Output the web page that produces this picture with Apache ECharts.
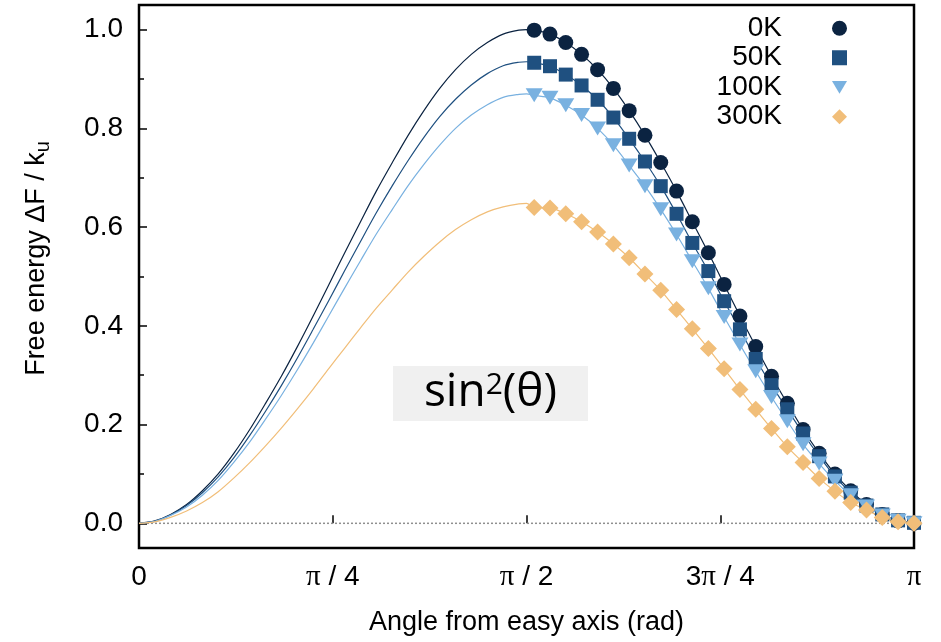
<!DOCTYPE html>
<html>
<head>
<meta charset="utf-8">
<script src="https://cdn.jsdelivr.net/npm/echarts@6/dist/echarts.min.js"></script>
<style>html,body{margin:0;padding:0;background:#fff;}#c{width:941px;height:642px;}</style>
</head>
<body>
<div id="c"></div>
<script>
// ---- data ----
const seriesNames = ['0K', '50K', '100K', '300K'];
const xTickLabels = ['0', 'π / 4', 'π / 2', '3π / 4', 'π'];
const yTickValues = [0, 0.2, 0.4, 0.6, 0.8, 1.0];
const yMinorTickValues = [0.1, 0.3, 0.5, 0.7, 0.9];

// marker angles (rad)
const xMarkers = [1.602, 1.666, 1.730, 1.794, 1.859, 1.923, 1.987, 2.051, 2.115, 2.179, 2.243, 2.308, 2.372, 2.436, 2.500, 2.564, 2.628, 2.692, 2.757, 2.821, 2.885, 2.949, 3.013, 3.077, 3.1416];
const m0K   = [0.999, 0.991, 0.974, 0.950, 0.919, 0.881, 0.836, 0.786, 0.731, 0.673, 0.611, 0.548, 0.484, 0.420, 0.358, 0.298, 0.243, 0.190, 0.142, 0.100, 0.066, 0.038, 0.018, 0.005, 0.000];
const m50K  = [0.933, 0.926, 0.909, 0.887, 0.858, 0.822, 0.779, 0.733, 0.683, 0.627, 0.568, 0.511, 0.450, 0.393, 0.333, 0.280, 0.231, 0.182, 0.136, 0.095, 0.062, 0.036, 0.018, 0.006, 0.001];
const m100K = [0.867, 0.862, 0.847, 0.827, 0.800, 0.766, 0.725, 0.683, 0.636, 0.585, 0.531, 0.476, 0.418, 0.362, 0.308, 0.256, 0.207, 0.160, 0.121, 0.086, 0.057, 0.034, 0.016, 0.005, 0.000];
const m300K = [0.640, 0.639, 0.627, 0.611, 0.590, 0.566, 0.538, 0.505, 0.472, 0.433, 0.394, 0.354, 0.313, 0.271, 0.231, 0.192, 0.155, 0.123, 0.091, 0.065, 0.042, 0.027, 0.012, 0.003, 0.000];

// fitted curves: left branch (0 .. pi/2) and the peak
const xCurveLeft = [0, 0.064, 0.128, 0.193, 0.257, 0.321, 0.385, 0.449, 0.513, 0.577, 0.642, 0.706, 0.770, 0.834, 0.898, 0.962, 1.027, 1.091, 1.155, 1.219, 1.283, 1.347, 1.412, 1.476, 1.540, 1.5708];
const c0K   = [0.000, 0.005, 0.018, 0.038, 0.066, 0.100, 0.142, 0.190, 0.243, 0.298, 0.358, 0.420, 0.484, 0.548, 0.611, 0.673, 0.731, 0.786, 0.836, 0.881, 0.919, 0.950, 0.974, 0.991, 0.999, 1.000];
const c50K  = [0.000, 0.004, 0.017, 0.036, 0.062, 0.094, 0.133, 0.178, 0.227, 0.279, 0.335, 0.393, 0.452, 0.512, 0.571, 0.629, 0.684, 0.735, 0.782, 0.824, 0.859, 0.888, 0.911, 0.927, 0.934, 0.935];
const c100K = [0.000, 0.004, 0.016, 0.033, 0.057, 0.087, 0.124, 0.165, 0.211, 0.259, 0.311, 0.365, 0.421, 0.477, 0.532, 0.586, 0.636, 0.684, 0.727, 0.766, 0.800, 0.827, 0.848, 0.863, 0.869, 0.870];
const c300K = [0.000, 0.003, 0.012, 0.025, 0.042, 0.064, 0.092, 0.123, 0.157, 0.193, 0.232, 0.272, 0.314, 0.355, 0.396, 0.436, 0.473, 0.509, 0.541, 0.570, 0.595, 0.615, 0.631, 0.641, 0.647, 0.648];

const colors = ['#0b2341', '#1f5080', '#79b1e0', '#f1be79'];
const DOWN_TRIANGLE = 'path://M0,0L10,0L5,8.5Z';
const symbols = ['circle', 'rect', DOWN_TRIANGLE, 'diamond'];
const symbolSizes = [15, 14, [17, 14], 17];

const markerVals = [m0K, m50K, m100K, m300K];
const curveLeftVals = [c0K, c50K, c100K, c300K];

const FONT = 'Liberation Sans';

const series = [];
// zero reference line
series.push({
  type: 'line', name: 'zero', data: [[0, 0], [Math.PI, 0]], symbol: 'none',
  lineStyle: { color: '#8f8f8f', width: 1.5, type: [2, 2] }, silent: true, z: 1
});
// curves
for (let i = 0; i < 4; i++) {
  const pts = [];
  xCurveLeft.forEach((x, j) => pts.push([x, curveLeftVals[i][j]]));
  xMarkers.forEach((x, j) => pts.push([x, markerVals[i][j]]));
  series.push({
    type: 'line', name: 'curve' + seriesNames[i], data: pts, symbol: 'none', smooth: 0.3,
    lineStyle: { color: colors[i], width: 1.2 }, silent: true, z: 2
  });
}
// markers
for (let i = 0; i < 4; i++) {
  series.push({
    type: 'scatter', name: seriesNames[i],
    data: xMarkers.map((x, j) => [x, markerVals[i][j]]),
    symbol: symbols[i], symbolSize: symbolSizes[i],
    itemStyle: { color: colors[i], opacity: 1 }, z: 3 + i, silent: true
  });
}

const chart = echarts.init(document.getElementById('c'), null, { renderer: 'canvas' });
chart.setOption({
  animation: false,
  backgroundColor: '#fff',
  textStyle: { fontFamily: FONT },
  grid: { left: 139, right: 27, top: 5, bottom: 94, show: true, borderColor: '#000', borderWidth: 2.5, containLabel: false },
  legend: {
    data: seriesNames.map((n, i) => ({ name: n, icon: symbols[i] })),
    orient: 'vertical', align: 'right', right: 94, top: 13.5, padding: 0,
    itemWidth: 15, itemHeight: 15, itemGap: 0,
    textStyle: { fontSize: 28, color: '#000', fontFamily: FONT, lineHeight: 29.5, padding: [0, 45, 0, 0] },
    selectedMode: false
  },
  xAxis: {
    type: 'value', min: 0, max: Math.PI, interval: Math.PI / 4,
    axisLine: { show: false },
    axisTick: { show: true, inside: true, length: 8, lineStyle: { color: '#000', width: 1.5 } },
    splitLine: { show: false },
    axisLabel: {
      margin: 15, color: '#000', fontSize: 28, fontFamily: FONT,
      formatter: v => xTickLabels[Math.round(v / (Math.PI / 4))].replace(/π/g, '{p|π}'),
      rich: { p: { fontFamily: 'Liberation Serif', fontSize: 29, color: '#000' } }
    },
    name: 'Angle from easy axis (rad)', nameLocation: 'middle', nameGap: 61,
    nameTextStyle: { fontSize: 27, color: '#000', fontFamily: FONT }
  },
  yAxis: [{
    type: 'value', min: -0.05, max: 1.05,
    axisLine: { show: false },
    axisTick: { show: true, inside: true, length: 8, customValues: yTickValues, lineStyle: { color: '#000', width: 1.5 } },
    splitLine: { show: false },
    axisLabel: { margin: 16, color: '#000', fontSize: 28, fontFamily: FONT, customValues: yTickValues, formatter: v => v.toFixed(1) },
    name: 'Free energy ΔF / k{sub|u}', nameLocation: 'middle', nameGap: 86,
    nameTextStyle: { fontSize: 27, color: '#000', fontFamily: FONT, padding: [0, 0, 0, 36],
      rich: { sub: { fontSize: 20, color: '#000', fontFamily: FONT, padding: [13, 0, 0, 0] } } }
  }, {
    type: 'value', min: -0.05, max: 1.05, position: 'left',
    axisLine: { show: false },
    axisTick: { show: true, inside: true, length: 5, customValues: yMinorTickValues, lineStyle: { color: '#000', width: 1.5 } },
    splitLine: { show: false },
    axisLabel: { show: false }
  }],
  graphic: [{
    type: 'rect', shape: { x: 393, y: 366, width: 195, height: 55 }, style: { fill: '#f0f0f0' }, z: 0, silent: true
  }, {
    type: 'text', x: 490.5, y: 393, z: 10, silent: true,
    style: {
      text: 'sin{sup|2}(θ)', align: 'center', verticalAlign: 'middle',
      fontSize: 46, fontFamily: 'Open Sans', fill: '#000',
      rich: { sup: { fontSize: 30, fontFamily: 'Open Sans', verticalAlign: 'top', fill: '#000' } }
    }
  }],
  series: series
});
</script>
</body>
</html>
